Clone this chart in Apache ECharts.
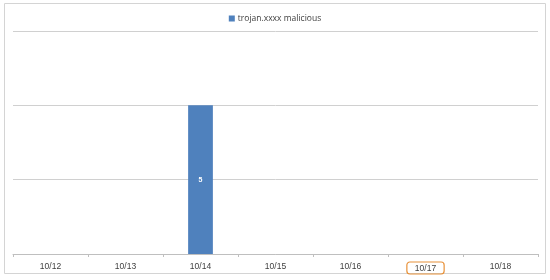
<!DOCTYPE html>
<html><head><meta charset="utf-8">
<script src="https://cdn.jsdelivr.net/npm/echarts@6/dist/echarts.min.js"></script>
<style>html,body{margin:0;padding:0;background:#fff}#c{width:550px;height:280px}</style>
</head><body><div id="c"></div>
<script>
var categories = ['10/12','10/13','10/14','10/15','10/16','10/17','10/18'];
var seriesName = 'trojan.xxxx malicious';
var values = [null, null, 5, null, null, null, null];
var highlighted = '10/17';

var chart = echarts.init(document.getElementById('c'));
chart.setOption({
  animation: false,
  graphic: [{
    type: 'rect', shape: {x: 4.5, y: 3.5, width: 541, height: 270},
    style: {fill: 'none', stroke: '#d4d4d4', lineWidth: 1}, silent: true
  }],
  legend: {
    top: 9, left: 'center', itemWidth: 6, itemHeight: 6, icon: 'rect',
    textStyle: {fontSize: 8.5, color: '#404040', fontFamily: 'Open Sans', padding: [0, 0, 0, -2]},
    itemGap: 4
  },
  grid: {left: 13, right: 12, top: 31, bottom: 26},
  xAxis: {
    type: 'category', data: categories,
    axisLine: {lineStyle: {color: '#bfbfbf'}},
    axisTick: {show: true, lineStyle: {color: '#bfbfbf'}, length: 3},
    axisLabel: {
      fontSize: 8.5, color: '#404040', fontFamily: 'Liberation Sans', margin: 8,
      formatter: function (v) { return v === highlighted ? '{h|' + v + '}' : v; },
      rich: {h: {fontSize: 8.5, color: '#404040', borderColor: '#e8923a', borderWidth: 1.2, borderRadius: 3, padding: [2, 8, 1, 8], fontFamily: 'Liberation Sans'}}
    }
  },
  yAxis: {
    type: 'value', min: 0, max: 7.5, interval: 2.5,
    axisLabel: {show: false}, axisLine: {show: false}, axisTick: {show: false},
    splitLine: {lineStyle: {color: '#d0d0d0'}}
  },
  series: [{
    name: seriesName, type: 'bar', data: values, barWidth: '33%',
    itemStyle: {color: '#4f81bd'},
    label: {show: true, position: 'inside', color: '#fff', fontSize: 7, fontWeight: 'bold', fontFamily: 'Liberation Sans'}
  }]
});
</script></body></html>
